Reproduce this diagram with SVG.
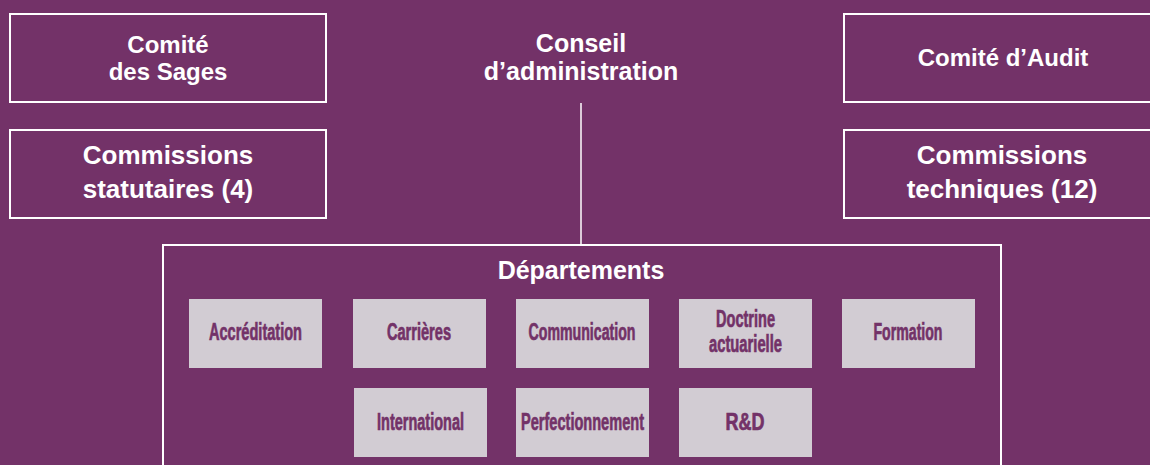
<svg xmlns="http://www.w3.org/2000/svg" width="1150" height="465" viewBox="0 0 1150 465">
<style>
.bg{fill:#733268}
.box{fill:none;stroke:#ffffff;stroke-width:2}
.h{font-family:"Liberation Sans",Arial,Helvetica,sans-serif;font-weight:bold;fill:#ffffff;text-anchor:middle}
.dept{fill:#d2ccd3}
.d{font-family:"Liberation Sans",Arial,Helvetica,sans-serif;font-weight:bold;fill:#733268;stroke:#733268;stroke-width:0.7;text-anchor:middle;font-size:23px}
.conn{stroke:#ffffff;stroke-width:1.5;fill:none}
</style>
<rect class="bg" x="0" y="0" width="1150" height="465"/>
<g id="connectors">
<line class="conn" x1="581" y1="103" x2="581" y2="245"/>
</g>
<g id="comite-sages">
<rect class="box" x="10" y="14" width="316" height="88"/>
<text class="h" x="168" y="53" font-size="24">Comité</text>
<text class="h" x="168" y="80" font-size="24">des Sages</text>
</g>
<g id="commissions-statutaires">
<rect class="box" x="10" y="130" width="316" height="88"/>
<text class="h" x="168" y="164" font-size="26">Commissions</text>
<text class="h" x="168" y="198" font-size="26">statutaires (4)</text>
</g>
<g id="conseil">
<text class="h" x="581" y="52" font-size="25">Conseil</text>
<text class="h" x="581" y="80" font-size="25">d’administration</text>
</g>
<g id="comite-audit">
<rect class="box" x="844" y="14" width="318" height="88"/>
<text class="h" x="1003" y="66" font-size="24">Comité d’Audit</text>
</g>
<g id="commissions-techniques">
<rect class="box" x="844" y="130" width="318" height="88"/>
<text class="h" x="1002" y="164" font-size="26">Commissions</text>
<text class="h" x="1002" y="198" font-size="26">techniques (12)</text>
</g>
<g id="departements">
<rect class="box" x="163" y="245" width="838" height="240"/>
<text class="h" x="581" y="279" font-size="25">Départements</text>
</g>
<g id="accreditation">
<rect class="dept" x="189" y="299" width="133" height="69"/>
<text class="d" x="255.5" y="340" textLength="93" lengthAdjust="spacingAndGlyphs">Accréditation</text>
</g>
<g id="carrieres">
<rect class="dept" x="353" y="299" width="133" height="69"/>
<text class="d" x="419" y="340" textLength="64" lengthAdjust="spacingAndGlyphs">Carrières</text>
</g>
<g id="communication">
<rect class="dept" x="516" y="299" width="133" height="69"/>
<text class="d" x="582" y="340" textLength="107" lengthAdjust="spacingAndGlyphs">Communication</text>
</g>
<g id="doctrine">
<rect class="dept" x="679" y="299" width="133" height="69"/>
<text class="d" x="745.5" y="327" textLength="59" lengthAdjust="spacingAndGlyphs" font-size="21">Doctrine</text>
<text class="d" x="745.5" y="352" textLength="73" lengthAdjust="spacingAndGlyphs" font-size="21">actuarielle</text>
</g>
<g id="formation">
<rect class="dept" x="842" y="299" width="133" height="69"/>
<text class="d" x="908" y="340" textLength="69" lengthAdjust="spacingAndGlyphs">Formation</text>
</g>
<g id="international">
<rect class="dept" x="354" y="388" width="133" height="69"/>
<text class="d" x="420.5" y="430" textLength="87" lengthAdjust="spacingAndGlyphs">International</text>
</g>
<g id="perfectionnement">
<rect class="dept" x="516" y="388" width="133" height="69"/>
<text class="d" x="582.5" y="430" textLength="123" lengthAdjust="spacingAndGlyphs">Perfectionnement</text>
</g>
<g id="rd">
<rect class="dept" x="679" y="388" width="133" height="69"/>
<text class="d" x="745" y="430" textLength="39" lengthAdjust="spacingAndGlyphs">R&amp;D</text>
</g>
</svg>
